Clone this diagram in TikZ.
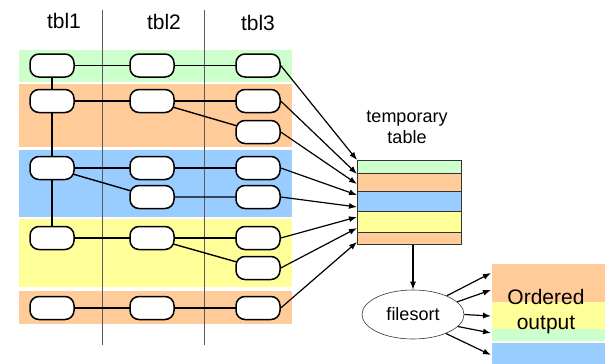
\documentclass[tikz,border=0pt]{standalone}
\usepackage{fontspec}
\setmainfont{Liberation Sans}
\usetikzlibrary{arrows.meta,shapes.geometric}
\definecolor{bgreen}{HTML}{CCFFCC}
\definecolor{borange}{HTML}{FFCC99}
\definecolor{bblue}{HTML}{99CCFF}
\definecolor{byellow}{HTML}{FFFF99}
\tikzset{
  rec/.style={draw=black, line width=1.5pt, fill=white, rounded corners=9pt,
    minimum width=44pt, minimum height=23pt, inner sep=0pt},
  link/.style={line width=1.4pt, black},
  feed/.style={line width=1.2pt, black, -{Latex[length=8pt,width=6pt]}},
  divider/.style={line width=0.9pt, black!65},
  head/.style={font=\fontsize{21}{24}\selectfont, inner sep=0pt},
  label/.style={font=\fontsize{18}{21}\selectfont, align=center, inner sep=0pt},
}
\begin{document}
\begin{tikzpicture}[x=1pt, y=-1pt]
\useasboundingbox (0,0) rectangle (605,364);

% row bands behind the records
\fill[bgreen]  (19,50)  rectangle (292,82);
\fill[borange] (19,84)  rectangle (292,147);
\fill[bblue]   (19,150) rectangle (292,217);
\fill[byellow] (19,219) rectangle (292,287);
\fill[borange] (19,291) rectangle (292,324);

% column dividers
\draw[divider] (102,10) -- (102,345);
\draw[divider] (204,10) -- (204,345);

% column headings
\node[head] (h1) at (64,21) {tbl1};
\node[head] (h2) at (164,22) {tbl2};
\node[head] (h3) at (258,23) {tbl3};

% record positions (links are drawn first, records on top)
\coordinate (pa1) at (52,65.5);
\coordinate (pb1) at (152,65.5);
\coordinate (pc1) at (258,65.5);
\coordinate (pa2) at (52,101);
\coordinate (pb2) at (152,101);
\coordinate (pc2) at (258,101);
\coordinate (pc2b) at (258,132);
\coordinate (pa3) at (52,168);
\coordinate (pb3) at (152,168);
\coordinate (pc3) at (258,168);
\coordinate (pb3b) at (152,197);
\coordinate (pc3b) at (258,197);
\coordinate (pa4) at (52,238);
\coordinate (pb4) at (152,238);
\coordinate (pc4) at (258,238);
\coordinate (pc4b) at (258,268);
\coordinate (pa5) at (52,308);
\coordinate (pb5) at (152,308);
\coordinate (pc5) at (258,308);

% join links
\draw[link] (pa1) -- (pb1) -- (pc1);
\draw[link] (pa1) -- (pa2);
\draw[link] (pa2) -- (pb2) -- (pc2);
\draw[link] (pb2) -- (pc2b);
\draw[link] (pa2) -- (pa3);
\draw[link] (pa3) -- (pb3) -- (pc3);
\draw[link] (pa3) -- (pb3b) -- (pc3b);
\draw[link] (pa3) -- (pa4);
\draw[link] (pa4) -- (pb4) -- (pc4);
\draw[link] (pb4) -- (pc4b);
\draw[link] (pa5) -- (pb5) -- (pc5);

% records
\foreach \n in {a1,b1,c1,a2,b2,c2,c2b,a3,b3,c3,b3b,c3b,a4,b4,c4,c4b,a5,b5,c5}
  \node[rec] (\n) at (p\n) {};

% temporary table
\fill[bgreen]  (357,160) rectangle (461,173);
\fill[borange] (357,173) rectangle (461,191);
\fill[bblue]   (357,191) rectangle (461,211);
\fill[byellow] (357,211) rectangle (461,232);
\fill[borange] (357,232) rectangle (461,244);
\draw[black!80, line width=0.8pt] (357,173) -- (461,173) (357,191) -- (461,191)
  (357,211) -- (461,211) (357,232) -- (461,232);
\node[draw=black!80, line width=0.8pt, minimum width=104pt, minimum height=84pt,
  inner sep=0pt, anchor=north west] (tmp) at (357,160) {};
\node[label] (tmptxt) at (407,127) {temporary\\table};

% arrival points on the table's left side
\coordinate (t1) at (357,160);
\coordinate (t2) at (357,174);
\coordinate (t3) at (357,184);
\coordinate (t4) at (357,195);
\coordinate (t5) at (357,207);
\coordinate (t6) at (357,217);
\coordinate (t7) at (357,228);
\coordinate (t8) at (357,242);

\draw[feed] (c1.east) -- (t1);
\draw[feed] (c2.east) -- (t2);
\draw[feed] (c2b.east) -- (t3);
\draw[feed] (c3.east) -- (t4);
\draw[feed] (c3b.east) -- (t5);
\draw[feed] (c4.east) -- (t6);
\draw[feed] (c4b.east) -- (t7);
\draw[feed] (c5.east) -- (t8);

% filesort
\node[draw=black!80, line width=0.6pt, ellipse, minimum width=102pt, minimum height=49pt,
  inner sep=0pt, font=\fontsize{18}{21}\selectfont] (fs) at (413,314.5) {filesort};
\draw[feed] (fs.north |- tmp.south) -- (fs.north);

% ordered output
\fill[borange] (492,264) rectangle (605,302);
\fill[byellow] (492,302) rectangle (605,329);
\fill[bgreen]  (492,329) rectangle (605,341);
\fill[bblue]   (492,343) rectangle (605,364);
\node[font=\fontsize{21}{24}\selectfont, inner sep=0pt] (o1) at (546,297) {Ordered};
\node[font=\fontsize{21}{24}\selectfont, inner sep=0pt] (o2) at (546,325) {output};

\coordinate (u1) at (491,273);
\coordinate (u2) at (491,290);
\coordinate (u3) at (491,316);
\coordinate (u4) at (491,333);
\coordinate (u5) at (491,355);
\draw[feed] (fs.29) -- (u1);
\draw[feed] (fs.16) -- (u2);
\draw[feed] (fs.east) -- (u3);
\draw[feed] (fs.-15) -- (u4);
\draw[feed] (fs.-30) -- (u5);
\end{tikzpicture}
\end{document}
